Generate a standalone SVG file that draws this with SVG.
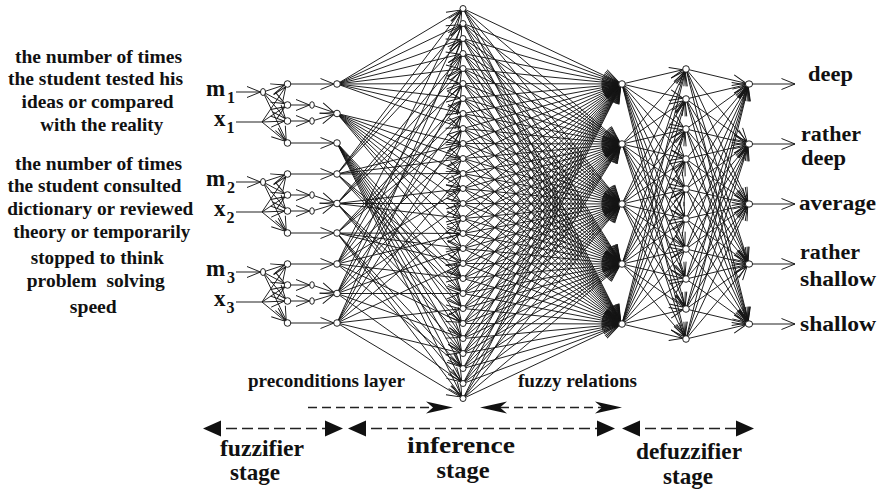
<svg xmlns="http://www.w3.org/2000/svg" width="878" height="492" viewBox="0 0 878 492">
<style>
.t{font-family:"Liberation Serif","Times New Roman",serif;font-weight:bold;fill:#111}
.l{font-size:19.5px;text-anchor:middle;white-space:pre}
.r{font-size:20.5px}
.g{font-size:24px;text-anchor:middle}
.mx{font-size:23px}
.sb{font-size:16px}
#connectors line{stroke:#151515;stroke-width:.95;marker-end:url(#v)}
#connectors .big line{marker-end:url(#vb)}
#connectors line.s{marker-end:url(#vs)}
#connectors line.n{marker-end:none}
#connectors line.o{marker-end:url(#vo)}
.nd{fill:#fff;stroke:#151515;stroke-width:.95}
.da{stroke:#222;stroke-width:1.5;fill:none;stroke-dasharray:9 5}
.db{stroke:#222;stroke-width:1.6;fill:none;stroke-dasharray:11 5}
.hd{fill:#111}
</style>
<defs>
<marker id="v" viewBox="0 0 18 12" markerWidth="18" markerHeight="12" refX="16.5" refY="6" orient="auto" markerUnits="userSpaceOnUse" overflow="visible"><path d="M0,.5 L13.5,6 L0,11.5" fill="none" stroke="#151515" stroke-width=".95"/></marker>
<marker id="vb" viewBox="0 0 22 14" markerWidth="22" markerHeight="14" refX="19.5" refY="7" orient="auto" markerUnits="userSpaceOnUse" overflow="visible"><path d="M0,.5 L16.5,7 L0,13.5" fill="none" stroke="#151515" stroke-width=".95"/></marker>
<marker id="vs" viewBox="0 0 18 12" markerWidth="18" markerHeight="12" refX="16" refY="6" orient="auto" markerUnits="userSpaceOnUse" overflow="visible"><path d="M0,.5 L13.5,6 L0,11.5" fill="none" stroke="#151515" stroke-width=".95"/></marker>
<marker id="vo" viewBox="0 0 18 12" markerWidth="18" markerHeight="12" refX="13.5" refY="6" orient="auto" markerUnits="userSpaceOnUse" overflow="visible"><path d="M0,.5 L13.5,6 L0,11.5" fill="none" stroke="#151515" stroke-width=".95"/></marker>
</defs>
<rect width="878" height="492" fill="#fff"/>

<g id="input-descriptions">
<text class="t l" x="98.5" y="62.5" textLength="167" lengthAdjust="spacingAndGlyphs">the number of times</text>
<text class="t l" x="95.5" y="85" textLength="175" lengthAdjust="spacingAndGlyphs">the student tested his</text>
<text class="t l" x="97.5" y="108" textLength="152" lengthAdjust="spacingAndGlyphs">ideas or compared</text>
<text class="t l" x="101.7" y="131" textLength="123" lengthAdjust="spacingAndGlyphs">with the reality</text>
<text class="t l" x="98.5" y="170" textLength="167" lengthAdjust="spacingAndGlyphs">the number of times</text>
<text class="t l" x="94.5" y="192" textLength="174" lengthAdjust="spacingAndGlyphs">the student consulted</text>
<text class="t l" x="100.3" y="215" textLength="186" lengthAdjust="spacingAndGlyphs">dictionary or reviewed</text>
<text class="t l" x="101.7" y="238" textLength="177" lengthAdjust="spacingAndGlyphs">theory or temporarily</text>
<text class="t l" x="97.3" y="264" textLength="133" lengthAdjust="spacingAndGlyphs">stopped to think</text>
<text class="t l" x="95.8" y="287" textLength="138" lengthAdjust="spacingAndGlyphs">problem  solving</text>
<text class="t l" x="93.3" y="312.5" textLength="47" lengthAdjust="spacingAndGlyphs">speed</text>
</g>

<g id="input-labels">
<text class="t mx" x="206" y="96">m</text><text class="t sb" x="227" y="103">1</text>
<text class="t mx" x="214" y="126">x</text><text class="t sb" x="226.5" y="133">1</text>
<text class="t mx" x="206" y="186">m</text><text class="t sb" x="227" y="193">2</text>
<text class="t mx" x="214" y="216">x</text><text class="t sb" x="226.5" y="223">2</text>
<text class="t mx" x="206" y="276">m</text><text class="t sb" x="227" y="283">3</text>
<text class="t mx" x="214" y="306">x</text><text class="t sb" x="226.5" y="313">3</text>
</g>

<g id="connectors">
<!-- group 1 -->
<line class="s" x1="236" y1="92" x2="263" y2="92"/>
<line class="n" x1="236" y1="122" x2="262" y2="122"/>
<line x1="263" y1="92" x2="287.5" y2="84"/><line x1="263" y1="92" x2="287.5" y2="105"/><line x1="263" y1="92" x2="287.5" y2="121"/><line x1="263" y1="92" x2="287.5" y2="143"/>
<line x1="262" y1="122" x2="287.5" y2="84"/><line x1="262" y1="122" x2="287.5" y2="105"/><line x1="262" y1="122" x2="287.5" y2="121"/><line x1="262" y1="122" x2="287.5" y2="143"/>
<line x1="287.5" y1="84" x2="337" y2="84"/>
<line class="s" x1="287.5" y1="105" x2="312" y2="105"/><line class="s" x1="287.5" y1="121" x2="312" y2="121"/>
<line x1="312" y1="105" x2="337" y2="113.5"/><line x1="312" y1="121" x2="337" y2="113.5"/>
<line x1="287.5" y1="143" x2="337" y2="143"/>
<!-- group 2 -->
<line class="s" x1="236" y1="182" x2="263" y2="182"/>
<line class="n" x1="236" y1="212" x2="262" y2="212"/>
<line x1="263" y1="182" x2="287.5" y2="174"/><line x1="263" y1="182" x2="287.5" y2="195"/><line x1="263" y1="182" x2="287.5" y2="211"/><line x1="263" y1="182" x2="287.5" y2="233"/>
<line x1="262" y1="212" x2="287.5" y2="174"/><line x1="262" y1="212" x2="287.5" y2="195"/><line x1="262" y1="212" x2="287.5" y2="211"/><line x1="262" y1="212" x2="287.5" y2="233"/>
<line x1="287.5" y1="174" x2="337" y2="174"/>
<line class="s" x1="287.5" y1="195" x2="312" y2="195"/><line class="s" x1="287.5" y1="211" x2="312" y2="211"/>
<line x1="312" y1="195" x2="337" y2="203.5"/><line x1="312" y1="211" x2="337" y2="203.5"/>
<line x1="287.5" y1="233" x2="337" y2="233"/>
<!-- group 3 -->
<line class="s" x1="236" y1="272" x2="263" y2="272"/>
<line class="n" x1="236" y1="302" x2="262" y2="302"/>
<line x1="263" y1="272" x2="287.5" y2="264"/><line x1="263" y1="272" x2="287.5" y2="285"/><line x1="263" y1="272" x2="287.5" y2="301"/><line x1="263" y1="272" x2="287.5" y2="323"/>
<line x1="262" y1="302" x2="287.5" y2="264"/><line x1="262" y1="302" x2="287.5" y2="285"/><line x1="262" y1="302" x2="287.5" y2="301"/><line x1="262" y1="302" x2="287.5" y2="323"/>
<line x1="287.5" y1="264" x2="337" y2="264"/>
<line class="s" x1="287.5" y1="285" x2="312" y2="285"/><line class="s" x1="287.5" y1="301" x2="312" y2="301"/>
<line x1="312" y1="285" x2="337" y2="293.5"/><line x1="312" y1="301" x2="337" y2="293.5"/>
<line x1="287.5" y1="323" x2="337" y2="323"/>
<!-- fuzzy sets to rules -->
<line x1="337" y1="84" x2="463" y2="8.5"/><line x1="337" y1="84" x2="463" y2="23.5"/><line x1="337" y1="84" x2="463" y2="38.5"/><line x1="337" y1="84" x2="463" y2="53.5"/><line x1="337" y1="84" x2="463" y2="68.5"/><line x1="337" y1="84" x2="463" y2="83.5"/><line x1="337" y1="84" x2="463" y2="98.5"/><line x1="337" y1="84" x2="463" y2="113.5"/><line x1="337" y1="84" x2="463" y2="128.5"/>
<line x1="337" y1="113.5" x2="463" y2="143.5"/><line x1="337" y1="113.5" x2="463" y2="158.5"/><line x1="337" y1="113.5" x2="463" y2="173.5"/><line x1="337" y1="113.5" x2="463" y2="188.5"/><line x1="337" y1="113.5" x2="463" y2="203.5"/><line x1="337" y1="113.5" x2="463" y2="218.5"/><line x1="337" y1="113.5" x2="463" y2="233.5"/><line x1="337" y1="113.5" x2="463" y2="248.5"/><line x1="337" y1="113.5" x2="463" y2="263.5"/>
<line x1="337" y1="143" x2="463" y2="278.5"/><line x1="337" y1="143" x2="463" y2="293.5"/><line x1="337" y1="143" x2="463" y2="308.5"/><line x1="337" y1="143" x2="463" y2="323.5"/><line x1="337" y1="143" x2="463" y2="338.5"/><line x1="337" y1="143" x2="463" y2="353.5"/><line x1="337" y1="143" x2="463" y2="368.5"/><line x1="337" y1="143" x2="463" y2="383.5"/><line x1="337" y1="143" x2="463" y2="398.5"/>
<line x1="337" y1="174" x2="463" y2="8.5"/><line x1="337" y1="174" x2="463" y2="23.5"/><line x1="337" y1="174" x2="463" y2="38.5"/><line x1="337" y1="174" x2="463" y2="143.5"/><line x1="337" y1="174" x2="463" y2="158.5"/><line x1="337" y1="174" x2="463" y2="173.5"/><line x1="337" y1="174" x2="463" y2="278.5"/><line x1="337" y1="174" x2="463" y2="293.5"/><line x1="337" y1="174" x2="463" y2="308.5"/>
<line x1="337" y1="203.5" x2="463" y2="53.5"/><line x1="337" y1="203.5" x2="463" y2="68.5"/><line x1="337" y1="203.5" x2="463" y2="83.5"/><line x1="337" y1="203.5" x2="463" y2="188.5"/><line x1="337" y1="203.5" x2="463" y2="203.5"/><line x1="337" y1="203.5" x2="463" y2="218.5"/><line x1="337" y1="203.5" x2="463" y2="323.5"/><line x1="337" y1="203.5" x2="463" y2="338.5"/><line x1="337" y1="203.5" x2="463" y2="353.5"/>
<line x1="337" y1="233" x2="463" y2="98.5"/><line x1="337" y1="233" x2="463" y2="113.5"/><line x1="337" y1="233" x2="463" y2="128.5"/><line x1="337" y1="233" x2="463" y2="233.5"/><line x1="337" y1="233" x2="463" y2="248.5"/><line x1="337" y1="233" x2="463" y2="263.5"/><line x1="337" y1="233" x2="463" y2="368.5"/><line x1="337" y1="233" x2="463" y2="383.5"/><line x1="337" y1="233" x2="463" y2="398.5"/>
<line x1="337" y1="264" x2="463" y2="8.5"/><line x1="337" y1="264" x2="463" y2="53.5"/><line x1="337" y1="264" x2="463" y2="98.5"/><line x1="337" y1="264" x2="463" y2="143.5"/><line x1="337" y1="264" x2="463" y2="188.5"/><line x1="337" y1="264" x2="463" y2="233.5"/><line x1="337" y1="264" x2="463" y2="278.5"/><line x1="337" y1="264" x2="463" y2="323.5"/><line x1="337" y1="264" x2="463" y2="368.5"/>
<line x1="337" y1="293.5" x2="463" y2="23.5"/><line x1="337" y1="293.5" x2="463" y2="68.5"/><line x1="337" y1="293.5" x2="463" y2="113.5"/><line x1="337" y1="293.5" x2="463" y2="158.5"/><line x1="337" y1="293.5" x2="463" y2="203.5"/><line x1="337" y1="293.5" x2="463" y2="248.5"/><line x1="337" y1="293.5" x2="463" y2="293.5"/><line x1="337" y1="293.5" x2="463" y2="338.5"/><line x1="337" y1="293.5" x2="463" y2="383.5"/>
<line x1="337" y1="323" x2="463" y2="38.5"/><line x1="337" y1="323" x2="463" y2="83.5"/><line x1="337" y1="323" x2="463" y2="128.5"/><line x1="337" y1="323" x2="463" y2="173.5"/><line x1="337" y1="323" x2="463" y2="218.5"/><line x1="337" y1="323" x2="463" y2="263.5"/><line x1="337" y1="323" x2="463" y2="308.5"/><line x1="337" y1="323" x2="463" y2="353.5"/><line x1="337" y1="323" x2="463" y2="398.5"/>
<!-- rules to fuzzy relations layer -->
<g class="big">
<line x1="463" y1="8.5" x2="622" y2="84"/><line x1="463" y1="8.5" x2="622" y2="144"/><line x1="463" y1="8.5" x2="622" y2="204"/><line x1="463" y1="8.5" x2="622" y2="264"/><line x1="463" y1="8.5" x2="622" y2="324"/>
<line x1="463" y1="23.5" x2="622" y2="84"/><line x1="463" y1="23.5" x2="622" y2="144"/><line x1="463" y1="23.5" x2="622" y2="204"/><line x1="463" y1="23.5" x2="622" y2="264"/><line x1="463" y1="23.5" x2="622" y2="324"/>
<line x1="463" y1="38.5" x2="622" y2="84"/><line x1="463" y1="38.5" x2="622" y2="144"/><line x1="463" y1="38.5" x2="622" y2="204"/><line x1="463" y1="38.5" x2="622" y2="264"/><line x1="463" y1="38.5" x2="622" y2="324"/>
<line x1="463" y1="53.5" x2="622" y2="84"/><line x1="463" y1="53.5" x2="622" y2="144"/><line x1="463" y1="53.5" x2="622" y2="204"/><line x1="463" y1="53.5" x2="622" y2="264"/><line x1="463" y1="53.5" x2="622" y2="324"/>
<line x1="463" y1="68.5" x2="622" y2="84"/><line x1="463" y1="68.5" x2="622" y2="144"/><line x1="463" y1="68.5" x2="622" y2="204"/><line x1="463" y1="68.5" x2="622" y2="264"/><line x1="463" y1="68.5" x2="622" y2="324"/>
<line x1="463" y1="83.5" x2="622" y2="84"/><line x1="463" y1="83.5" x2="622" y2="144"/><line x1="463" y1="83.5" x2="622" y2="204"/><line x1="463" y1="83.5" x2="622" y2="264"/><line x1="463" y1="83.5" x2="622" y2="324"/>
<line x1="463" y1="98.5" x2="622" y2="84"/><line x1="463" y1="98.5" x2="622" y2="144"/><line x1="463" y1="98.5" x2="622" y2="204"/><line x1="463" y1="98.5" x2="622" y2="264"/><line x1="463" y1="98.5" x2="622" y2="324"/>
<line x1="463" y1="113.5" x2="622" y2="84"/><line x1="463" y1="113.5" x2="622" y2="144"/><line x1="463" y1="113.5" x2="622" y2="204"/><line x1="463" y1="113.5" x2="622" y2="264"/><line x1="463" y1="113.5" x2="622" y2="324"/>
<line x1="463" y1="128.5" x2="622" y2="84"/><line x1="463" y1="128.5" x2="622" y2="144"/><line x1="463" y1="128.5" x2="622" y2="204"/><line x1="463" y1="128.5" x2="622" y2="264"/><line x1="463" y1="128.5" x2="622" y2="324"/>
<line x1="463" y1="143.5" x2="622" y2="84"/><line x1="463" y1="143.5" x2="622" y2="144"/><line x1="463" y1="143.5" x2="622" y2="204"/><line x1="463" y1="143.5" x2="622" y2="264"/><line x1="463" y1="143.5" x2="622" y2="324"/>
<line x1="463" y1="158.5" x2="622" y2="84"/><line x1="463" y1="158.5" x2="622" y2="144"/><line x1="463" y1="158.5" x2="622" y2="204"/><line x1="463" y1="158.5" x2="622" y2="264"/><line x1="463" y1="158.5" x2="622" y2="324"/>
<line x1="463" y1="173.5" x2="622" y2="84"/><line x1="463" y1="173.5" x2="622" y2="144"/><line x1="463" y1="173.5" x2="622" y2="204"/><line x1="463" y1="173.5" x2="622" y2="264"/><line x1="463" y1="173.5" x2="622" y2="324"/>
<line x1="463" y1="188.5" x2="622" y2="84"/><line x1="463" y1="188.5" x2="622" y2="144"/><line x1="463" y1="188.5" x2="622" y2="204"/><line x1="463" y1="188.5" x2="622" y2="264"/><line x1="463" y1="188.5" x2="622" y2="324"/>
<line x1="463" y1="203.5" x2="622" y2="84"/><line x1="463" y1="203.5" x2="622" y2="144"/><line x1="463" y1="203.5" x2="622" y2="204"/><line x1="463" y1="203.5" x2="622" y2="264"/><line x1="463" y1="203.5" x2="622" y2="324"/>
<line x1="463" y1="218.5" x2="622" y2="84"/><line x1="463" y1="218.5" x2="622" y2="144"/><line x1="463" y1="218.5" x2="622" y2="204"/><line x1="463" y1="218.5" x2="622" y2="264"/><line x1="463" y1="218.5" x2="622" y2="324"/>
<line x1="463" y1="233.5" x2="622" y2="84"/><line x1="463" y1="233.5" x2="622" y2="144"/><line x1="463" y1="233.5" x2="622" y2="204"/><line x1="463" y1="233.5" x2="622" y2="264"/><line x1="463" y1="233.5" x2="622" y2="324"/>
<line x1="463" y1="248.5" x2="622" y2="84"/><line x1="463" y1="248.5" x2="622" y2="144"/><line x1="463" y1="248.5" x2="622" y2="204"/><line x1="463" y1="248.5" x2="622" y2="264"/><line x1="463" y1="248.5" x2="622" y2="324"/>
<line x1="463" y1="263.5" x2="622" y2="84"/><line x1="463" y1="263.5" x2="622" y2="144"/><line x1="463" y1="263.5" x2="622" y2="204"/><line x1="463" y1="263.5" x2="622" y2="264"/><line x1="463" y1="263.5" x2="622" y2="324"/>
<line x1="463" y1="278.5" x2="622" y2="84"/><line x1="463" y1="278.5" x2="622" y2="144"/><line x1="463" y1="278.5" x2="622" y2="204"/><line x1="463" y1="278.5" x2="622" y2="264"/><line x1="463" y1="278.5" x2="622" y2="324"/>
<line x1="463" y1="293.5" x2="622" y2="84"/><line x1="463" y1="293.5" x2="622" y2="144"/><line x1="463" y1="293.5" x2="622" y2="204"/><line x1="463" y1="293.5" x2="622" y2="264"/><line x1="463" y1="293.5" x2="622" y2="324"/>
<line x1="463" y1="308.5" x2="622" y2="84"/><line x1="463" y1="308.5" x2="622" y2="144"/><line x1="463" y1="308.5" x2="622" y2="204"/><line x1="463" y1="308.5" x2="622" y2="264"/><line x1="463" y1="308.5" x2="622" y2="324"/>
<line x1="463" y1="323.5" x2="622" y2="84"/><line x1="463" y1="323.5" x2="622" y2="144"/><line x1="463" y1="323.5" x2="622" y2="204"/><line x1="463" y1="323.5" x2="622" y2="264"/><line x1="463" y1="323.5" x2="622" y2="324"/>
<line x1="463" y1="338.5" x2="622" y2="84"/><line x1="463" y1="338.5" x2="622" y2="144"/><line x1="463" y1="338.5" x2="622" y2="204"/><line x1="463" y1="338.5" x2="622" y2="264"/><line x1="463" y1="338.5" x2="622" y2="324"/>
<line x1="463" y1="353.5" x2="622" y2="84"/><line x1="463" y1="353.5" x2="622" y2="144"/><line x1="463" y1="353.5" x2="622" y2="204"/><line x1="463" y1="353.5" x2="622" y2="264"/><line x1="463" y1="353.5" x2="622" y2="324"/>
<line x1="463" y1="368.5" x2="622" y2="84"/><line x1="463" y1="368.5" x2="622" y2="144"/><line x1="463" y1="368.5" x2="622" y2="204"/><line x1="463" y1="368.5" x2="622" y2="264"/><line x1="463" y1="368.5" x2="622" y2="324"/>
<line x1="463" y1="383.5" x2="622" y2="84"/><line x1="463" y1="383.5" x2="622" y2="144"/><line x1="463" y1="383.5" x2="622" y2="204"/><line x1="463" y1="383.5" x2="622" y2="264"/><line x1="463" y1="383.5" x2="622" y2="324"/>
<line x1="463" y1="398.5" x2="622" y2="84"/><line x1="463" y1="398.5" x2="622" y2="144"/><line x1="463" y1="398.5" x2="622" y2="204"/><line x1="463" y1="398.5" x2="622" y2="264"/><line x1="463" y1="398.5" x2="622" y2="324"/>
</g>
<!-- relations to hidden defuzz layer -->
<line x1="622" y1="84" x2="686" y2="69"/><line x1="622" y1="84" x2="686" y2="99"/><line x1="622" y1="84" x2="686" y2="129"/><line x1="622" y1="84" x2="686" y2="159"/><line x1="622" y1="84" x2="686" y2="189"/><line x1="622" y1="84" x2="686" y2="219"/><line x1="622" y1="84" x2="686" y2="249"/><line x1="622" y1="84" x2="686" y2="279"/><line x1="622" y1="84" x2="686" y2="309"/><line x1="622" y1="84" x2="686" y2="339"/>
<line x1="622" y1="144" x2="686" y2="69"/><line x1="622" y1="144" x2="686" y2="99"/><line x1="622" y1="144" x2="686" y2="129"/><line x1="622" y1="144" x2="686" y2="159"/><line x1="622" y1="144" x2="686" y2="189"/><line x1="622" y1="144" x2="686" y2="219"/><line x1="622" y1="144" x2="686" y2="249"/><line x1="622" y1="144" x2="686" y2="279"/><line x1="622" y1="144" x2="686" y2="309"/><line x1="622" y1="144" x2="686" y2="339"/>
<line x1="622" y1="204" x2="686" y2="69"/><line x1="622" y1="204" x2="686" y2="99"/><line x1="622" y1="204" x2="686" y2="129"/><line x1="622" y1="204" x2="686" y2="159"/><line x1="622" y1="204" x2="686" y2="189"/><line x1="622" y1="204" x2="686" y2="219"/><line x1="622" y1="204" x2="686" y2="249"/><line x1="622" y1="204" x2="686" y2="279"/><line x1="622" y1="204" x2="686" y2="309"/><line x1="622" y1="204" x2="686" y2="339"/>
<line x1="622" y1="264" x2="686" y2="69"/><line x1="622" y1="264" x2="686" y2="99"/><line x1="622" y1="264" x2="686" y2="129"/><line x1="622" y1="264" x2="686" y2="159"/><line x1="622" y1="264" x2="686" y2="189"/><line x1="622" y1="264" x2="686" y2="219"/><line x1="622" y1="264" x2="686" y2="249"/><line x1="622" y1="264" x2="686" y2="279"/><line x1="622" y1="264" x2="686" y2="309"/><line x1="622" y1="264" x2="686" y2="339"/>
<line x1="622" y1="324" x2="686" y2="69"/><line x1="622" y1="324" x2="686" y2="99"/><line x1="622" y1="324" x2="686" y2="129"/><line x1="622" y1="324" x2="686" y2="159"/><line x1="622" y1="324" x2="686" y2="189"/><line x1="622" y1="324" x2="686" y2="219"/><line x1="622" y1="324" x2="686" y2="249"/><line x1="622" y1="324" x2="686" y2="279"/><line x1="622" y1="324" x2="686" y2="309"/><line x1="622" y1="324" x2="686" y2="339"/>
<!-- hidden layer to outputs -->
<line x1="686" y1="69" x2="749" y2="84"/><line x1="686" y1="69" x2="749" y2="144"/><line x1="686" y1="69" x2="749" y2="204"/><line x1="686" y1="69" x2="749" y2="264"/><line x1="686" y1="69" x2="749" y2="324"/>
<line x1="686" y1="99" x2="749" y2="84"/><line x1="686" y1="99" x2="749" y2="144"/><line x1="686" y1="99" x2="749" y2="204"/><line x1="686" y1="99" x2="749" y2="264"/><line x1="686" y1="99" x2="749" y2="324"/>
<line x1="686" y1="129" x2="749" y2="84"/><line x1="686" y1="129" x2="749" y2="144"/><line x1="686" y1="129" x2="749" y2="204"/><line x1="686" y1="129" x2="749" y2="264"/><line x1="686" y1="129" x2="749" y2="324"/>
<line x1="686" y1="159" x2="749" y2="84"/><line x1="686" y1="159" x2="749" y2="144"/><line x1="686" y1="159" x2="749" y2="204"/><line x1="686" y1="159" x2="749" y2="264"/><line x1="686" y1="159" x2="749" y2="324"/>
<line x1="686" y1="189" x2="749" y2="84"/><line x1="686" y1="189" x2="749" y2="144"/><line x1="686" y1="189" x2="749" y2="204"/><line x1="686" y1="189" x2="749" y2="264"/><line x1="686" y1="189" x2="749" y2="324"/>
<line x1="686" y1="219" x2="749" y2="84"/><line x1="686" y1="219" x2="749" y2="144"/><line x1="686" y1="219" x2="749" y2="204"/><line x1="686" y1="219" x2="749" y2="264"/><line x1="686" y1="219" x2="749" y2="324"/>
<line x1="686" y1="249" x2="749" y2="84"/><line x1="686" y1="249" x2="749" y2="144"/><line x1="686" y1="249" x2="749" y2="204"/><line x1="686" y1="249" x2="749" y2="264"/><line x1="686" y1="249" x2="749" y2="324"/>
<line x1="686" y1="279" x2="749" y2="84"/><line x1="686" y1="279" x2="749" y2="144"/><line x1="686" y1="279" x2="749" y2="204"/><line x1="686" y1="279" x2="749" y2="264"/><line x1="686" y1="279" x2="749" y2="324"/>
<line x1="686" y1="309" x2="749" y2="84"/><line x1="686" y1="309" x2="749" y2="144"/><line x1="686" y1="309" x2="749" y2="204"/><line x1="686" y1="309" x2="749" y2="264"/><line x1="686" y1="309" x2="749" y2="324"/>
<line x1="686" y1="339" x2="749" y2="84"/><line x1="686" y1="339" x2="749" y2="144"/><line x1="686" y1="339" x2="749" y2="204"/><line x1="686" y1="339" x2="749" y2="264"/><line x1="686" y1="339" x2="749" y2="324"/>
<!-- outputs -->
<line class="o" x1="749" y1="84" x2="795" y2="84"/><line class="o" x1="749" y1="144" x2="795" y2="144"/><line class="o" x1="749" y1="204" x2="795" y2="204"/><line class="o" x1="749" y1="264" x2="795" y2="264"/><line class="o" x1="749" y1="324" x2="795" y2="324"/>
</g>

<g id="nodes">
<g id="m1-node"><ellipse class="nd" cx="263" cy="92" rx="2.5" ry="3.5"/></g>
<g id="m2-node"><ellipse class="nd" cx="263" cy="182" rx="2.5" ry="3.5"/></g>
<g id="m3-node"><ellipse class="nd" cx="263" cy="272" rx="2.5" ry="3.5"/></g>
<g id="f1-a"><circle class="nd" cx="287.5" cy="84" r="3.3"/></g>
<g id="f1-b"><circle class="nd" cx="287.5" cy="105" r="3.3"/></g>
<g id="f1-c"><circle class="nd" cx="287.5" cy="121" r="3.3"/></g>
<g id="f1-d"><circle class="nd" cx="287.5" cy="143" r="3.3"/></g>
<g id="f2-a"><circle class="nd" cx="287.5" cy="174" r="3.3"/></g>
<g id="f2-b"><circle class="nd" cx="287.5" cy="195" r="3.3"/></g>
<g id="f2-c"><circle class="nd" cx="287.5" cy="211" r="3.3"/></g>
<g id="f2-d"><circle class="nd" cx="287.5" cy="233" r="3.3"/></g>
<g id="f3-a"><circle class="nd" cx="287.5" cy="264" r="3.3"/></g>
<g id="f3-b"><circle class="nd" cx="287.5" cy="285" r="3.3"/></g>
<g id="f3-c"><circle class="nd" cx="287.5" cy="301" r="3.3"/></g>
<g id="f3-d"><circle class="nd" cx="287.5" cy="323" r="3.3"/></g>
<g id="s1-a"><ellipse class="nd" cx="312" cy="105" rx="2.3" ry="3.3"/></g>
<g id="s1-b"><ellipse class="nd" cx="312" cy="121" rx="2.3" ry="3.3"/></g>
<g id="s2-a"><ellipse class="nd" cx="312" cy="195" rx="2.3" ry="3.3"/></g>
<g id="s2-b"><ellipse class="nd" cx="312" cy="211" rx="2.3" ry="3.3"/></g>
<g id="s3-a"><ellipse class="nd" cx="312" cy="285" rx="2.3" ry="3.3"/></g>
<g id="s3-b"><ellipse class="nd" cx="312" cy="301" rx="2.3" ry="3.3"/></g>
<g id="p1-low"><circle class="nd" cx="337" cy="84" r="3.3"/></g>
<g id="p1-mid"><circle class="nd" cx="337" cy="113.5" r="3.3"/></g>
<g id="p1-high"><circle class="nd" cx="337" cy="143" r="3.3"/></g>
<g id="p2-low"><circle class="nd" cx="337" cy="174" r="3.3"/></g>
<g id="p2-mid"><circle class="nd" cx="337" cy="203.5" r="3.3"/></g>
<g id="p2-high"><circle class="nd" cx="337" cy="233" r="3.3"/></g>
<g id="p3-low"><circle class="nd" cx="337" cy="264" r="3.3"/></g>
<g id="p3-mid"><circle class="nd" cx="337" cy="293.5" r="3.3"/></g>
<g id="p3-high"><circle class="nd" cx="337" cy="323" r="3.3"/></g>
<g id="rule-1"><circle class="nd" cx="463" cy="8.5" r="3"/></g>
<g id="rule-2"><circle class="nd" cx="463" cy="23.5" r="3"/></g>
<g id="rule-3"><circle class="nd" cx="463" cy="38.5" r="3"/></g>
<g id="rule-4"><circle class="nd" cx="463" cy="53.5" r="3"/></g>
<g id="rule-5"><circle class="nd" cx="463" cy="68.5" r="3"/></g>
<g id="rule-6"><circle class="nd" cx="463" cy="83.5" r="3"/></g>
<g id="rule-7"><circle class="nd" cx="463" cy="98.5" r="3"/></g>
<g id="rule-8"><circle class="nd" cx="463" cy="113.5" r="3"/></g>
<g id="rule-9"><circle class="nd" cx="463" cy="128.5" r="3"/></g>
<g id="rule-10"><circle class="nd" cx="463" cy="143.5" r="3"/></g>
<g id="rule-11"><circle class="nd" cx="463" cy="158.5" r="3"/></g>
<g id="rule-12"><circle class="nd" cx="463" cy="173.5" r="3"/></g>
<g id="rule-13"><circle class="nd" cx="463" cy="188.5" r="3"/></g>
<g id="rule-14"><circle class="nd" cx="463" cy="203.5" r="3"/></g>
<g id="rule-15"><circle class="nd" cx="463" cy="218.5" r="3"/></g>
<g id="rule-16"><circle class="nd" cx="463" cy="233.5" r="3"/></g>
<g id="rule-17"><circle class="nd" cx="463" cy="248.5" r="3"/></g>
<g id="rule-18"><circle class="nd" cx="463" cy="263.5" r="3"/></g>
<g id="rule-19"><circle class="nd" cx="463" cy="278.5" r="3"/></g>
<g id="rule-20"><circle class="nd" cx="463" cy="293.5" r="3"/></g>
<g id="rule-21"><circle class="nd" cx="463" cy="308.5" r="3"/></g>
<g id="rule-22"><circle class="nd" cx="463" cy="323.5" r="3"/></g>
<g id="rule-23"><circle class="nd" cx="463" cy="338.5" r="3"/></g>
<g id="rule-24"><circle class="nd" cx="463" cy="353.5" r="3"/></g>
<g id="rule-25"><circle class="nd" cx="463" cy="368.5" r="3"/></g>
<g id="rule-26"><circle class="nd" cx="463" cy="383.5" r="3"/></g>
<g id="rule-27"><circle class="nd" cx="463" cy="398.5" r="3"/></g>
<g id="rel-1"><circle class="nd" cx="622" cy="84" r="3.3"/></g>
<g id="rel-2"><circle class="nd" cx="622" cy="144" r="3.3"/></g>
<g id="rel-3"><circle class="nd" cx="622" cy="204" r="3.3"/></g>
<g id="rel-4"><circle class="nd" cx="622" cy="264" r="3.3"/></g>
<g id="rel-5"><circle class="nd" cx="622" cy="324" r="3.3"/></g>
<g id="hid-1"><circle class="nd" cx="686" cy="69" r="3.3"/></g>
<g id="hid-2"><circle class="nd" cx="686" cy="99" r="3.3"/></g>
<g id="hid-3"><circle class="nd" cx="686" cy="129" r="3.3"/></g>
<g id="hid-4"><circle class="nd" cx="686" cy="159" r="3.3"/></g>
<g id="hid-5"><circle class="nd" cx="686" cy="189" r="3.3"/></g>
<g id="hid-6"><circle class="nd" cx="686" cy="219" r="3.3"/></g>
<g id="hid-7"><circle class="nd" cx="686" cy="249" r="3.3"/></g>
<g id="hid-8"><circle class="nd" cx="686" cy="279" r="3.3"/></g>
<g id="hid-9"><circle class="nd" cx="686" cy="309" r="3.3"/></g>
<g id="hid-10"><circle class="nd" cx="686" cy="339" r="3.3"/></g>
<g id="out-deep"><ellipse class="nd" cx="749" cy="84" rx="3.6" ry="3.2"/></g>
<g id="out-rather-deep"><ellipse class="nd" cx="749" cy="144" rx="3.6" ry="3.2"/></g>
<g id="out-average"><ellipse class="nd" cx="749" cy="204" rx="3.6" ry="3.2"/></g>
<g id="out-rather-shallow"><ellipse class="nd" cx="749" cy="264" rx="3.6" ry="3.2"/></g>
<g id="out-shallow"><ellipse class="nd" cx="749" cy="324" rx="3.6" ry="3.2"/></g>
</g>

<g id="output-labels">
<text class="t r" x="808" y="81" textLength="45" lengthAdjust="spacingAndGlyphs">deep</text>
<text class="t r" x="801" y="141" textLength="60" lengthAdjust="spacingAndGlyphs">rather</text>
<text class="t r" x="801" y="165" textLength="45" lengthAdjust="spacingAndGlyphs">deep</text>
<text class="t r" x="799" y="210" textLength="77" lengthAdjust="spacingAndGlyphs">average</text>
<text class="t r" x="800" y="259" textLength="60" lengthAdjust="spacingAndGlyphs">rather</text>
<text class="t r" x="800" y="286" textLength="76" lengthAdjust="spacingAndGlyphs">shallow</text>
<text class="t r" x="800" y="331" textLength="76" lengthAdjust="spacingAndGlyphs">shallow</text>
</g>

<g id="layer-annotations">
<text class="t" style="font-size:19px" x="248" y="387" textLength="157" lengthAdjust="spacingAndGlyphs">preconditions layer</text>
<text class="t" style="font-size:19px" x="518" y="387" textLength="119" lengthAdjust="spacingAndGlyphs">fuzzy relations</text>
<line class="da" x1="308" y1="407.5" x2="432" y2="407.5"/>
<polygon class="hd" points="453,407.5 426,401.5 433,407.5 426,413.5"/>
<line class="da" x1="500" y1="407.5" x2="602" y2="407.5"/>
<polygon class="hd" points="480,407.5 507,401.5 500,407.5 507,413.5"/>
<polygon class="hd" points="622,407.5 595,401.5 602,407.5 595,413.5"/>
</g>

<g id="stage-arrows">
<line class="db" x1="220" y1="428.5" x2="326" y2="428.5" stroke-dashoffset="-6"/>
<polygon class="hd" points="203,428.5 221,420.5 221,436.5"/>
<polygon class="hd" points="343,428.5 325,420.5 325,436.5"/>
<line class="db" x1="365" y1="428.5" x2="598" y2="428.5" stroke-dashoffset="-6"/>
<polygon class="hd" points="348,428.5 366,420.5 366,436.5"/>
<polygon class="hd" points="615,428.5 597,420.5 597,436.5"/>
<line class="db" x1="639" y1="428.5" x2="737" y2="428.5" stroke-dashoffset="-6"/>
<polygon class="hd" points="622,428.5 640,420.5 640,436.5"/>
<polygon class="hd" points="754,428.5 736,420.5 736,436.5"/>
</g>

<g id="stage-labels">
<text class="t g" x="262" y="456" textLength="84" lengthAdjust="spacingAndGlyphs">fuzzifier</text>
<text class="t g" x="255" y="480" textLength="50" lengthAdjust="spacingAndGlyphs">stage</text>
<text class="t g" x="461" y="453" textLength="108" lengthAdjust="spacingAndGlyphs">inference</text>
<text class="t g" x="463" y="478" textLength="53" lengthAdjust="spacingAndGlyphs">stage</text>
<text class="t g" x="689" y="459" textLength="106" lengthAdjust="spacingAndGlyphs">defuzzifier</text>
<text class="t g" x="688" y="484" textLength="50" lengthAdjust="spacingAndGlyphs">stage</text>
</g>
</svg>
